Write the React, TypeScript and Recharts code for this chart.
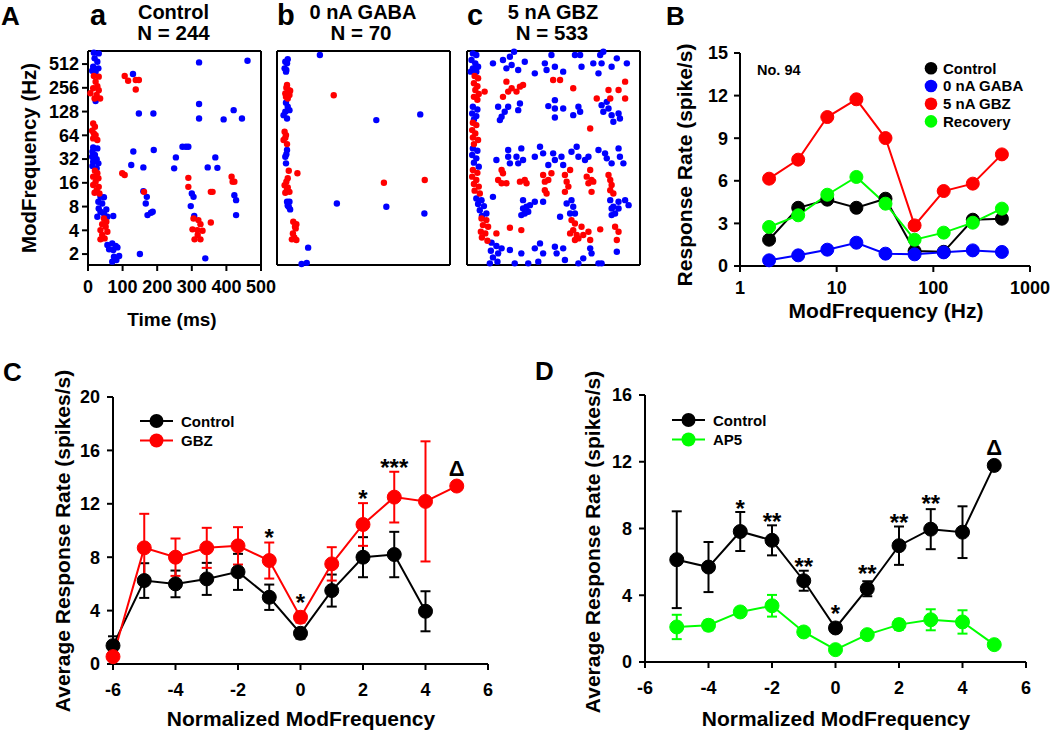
import React from 'react';
import {
  ScatterChart,
  Scatter,
  XAxis,
  YAxis,
  ReferenceLine,
  LineChart,
  Line,
  ComposedChart,
  ErrorBar,
} from 'recharts';

const FONT = '"Liberation Sans", Arial, Helvetica, sans-serif';
const BLUE = '#0000ff';
const RED = '#ff0000';
const GREEN = '#00ff00';
const BLACK = '#000000';

// ---- Panel A rasters: [time (ms), log2 ModFrequency] ----
type Pt = [number, number];

const rasterTimeTicks = [0, 100, 200, 300, 400, 500];
const rasterFreqTicks = [1, 2, 3, 4, 5, 6, 7, 8, 9];

const ctrlBlue: Pt[] = [
  [17, 9.48], [31, 9.45], [19, 9.24], [27, 9.1], [15, 8.89], [30, 8.82], [22, 8.68], [12, 8.72],
  [130, 8.58], [321, 9.07], [461, 9.14], [22, 7.44],
  [147, 6.92], [189, 6.92], [321, 7.32], [321, 6.71], [392, 6.67], [421, 7.06], [445, 6.71],
  [15, 5.49], [27, 5.45], [13, 5.31], [20, 5.17], [12, 5.1], [25, 4.99], [15, 4.89], [30, 4.82], [13, 4.71], [25, 4.61],
  [131, 5.32], [190, 5.38], [125, 4.75], [160, 4.65], [249, 4.61], [254, 5.07], [273, 5.52], [283, 5.52], [290, 5.52],
  [346, 4.65], [368, 5.07], [374, 4.63],
  [36, 3.41], [46, 3.39], [30, 3.2], [41, 3.13], [31, 2.92], [53, 2.88], [36, 2.78], [46, 2.71], [27, 2.57], [56, 2.57],
  [160, 3.65], [170, 3.41], [167, 3.13], [172, 2.64], [182, 2.74], [187, 2.78],
  [300, 3.55], [305, 3.41], [297, 3.02], [307, 2.6], [423, 3.48], [428, 3.27], [428, 2.64], [73, 2.6],
  [56, 1.38], [70, 1.45], [80, 1.34], [61, 1.2], [73, 1.17], [85, 1.28], [75, 0.89], [90, 0.92], [70, 0.68], [82, 0.75],
  [150, 1.0], [339, 0.82],
];
const ctrlRed: Pt[] = [
  [17, 8.5], [31, 8.47], [22, 8.26], [27, 8.07], [15, 7.98], [31, 7.9], [7, 7.77], [25, 7.7], [35, 7.55], [19, 7.55],
  [106, 8.5], [116, 8.3], [138, 8.33], [147, 8.33], [138, 7.93],
  [15, 6.5], [20, 6.36], [12, 6.19], [17, 6.08], [22, 6.01], [15, 5.87], [27, 5.8],
  [20, 4.51], [27, 4.4], [15, 4.26], [30, 4.19], [22, 4.05], [15, 3.91], [31, 3.83], [25, 3.69], [19, 3.58], [33, 3.55],
  [99, 4.4], [106, 4.33], [162, 3.62], [290, 4.21], [290, 3.83], [355, 3.62], [360, 3.62], [415, 4.26], [418, 4.05], [423, 4.05],
  [46, 2.5], [53, 2.36], [41, 2.26], [51, 2.15], [36, 2.01], [56, 1.94], [41, 1.8], [48, 1.66], [36, 1.62],
  [305, 2.5], [319, 2.43], [325, 2.26], [302, 2.04], [316, 2.01], [331, 1.98], [308, 1.62], [325, 1.62], [317, 1.8], [355, 2.33],
];

const gabaBlue: Pt[] = [
  [124, 9.38], [24, 9.1], [29, 9.03], [31, 9.2], [22, 8.82], [26, 8.68], [27, 8.75],
  [26, 7.37], [24, 6.99], [36, 7.06], [19, 6.85], [29, 6.71], [31, 7.2], [287, 6.64], [414, 6.88],
  [29, 5.38], [24, 5.1], [27, 5.2], [26, 4.82],
  [29, 3.2], [36, 3.2], [34, 2.99], [38, 2.88], [31, 3.05], [173, 3.13], [316, 2.99], [426, 2.71],
  [90, 1.27], [71, 0.58], [86, 0.63],
];
const gabaRed: Pt[] = [
  [29, 8.12], [34, 7.9], [24, 7.76], [38, 7.88], [26, 7.62], [31, 7.55], [27, 8.0], [36, 7.7], [164, 7.69],
  [22, 6.15], [26, 6.01], [19, 5.8], [29, 5.63], [24, 5.9],
  [34, 4.51], [59, 4.4], [31, 4.19], [22, 3.9], [29, 3.72], [36, 3.62], [24, 3.58], [27, 4.05], [31, 3.8],
  [309, 4.0], [427, 4.12],
  [47, 2.36], [56, 2.26], [54, 2.08], [46, 1.87], [43, 1.62], [56, 1.59], [52, 2.15], [50, 1.7],
];

const gbzBlue: Pt[] = [
  [17, 9.45], [27, 9.38], [13, 9.17], [24, 9.03], [17, 8.82], [32, 8.89], [11, 8.68], [27, 8.68],
  [75, 9.03], [104, 9.17], [124, 9.31], [136, 9.52], [114, 8.82], [129, 8.96], [148, 8.75], [167, 9.1],
  [196, 8.61], [225, 9.03], [244, 9.38], [230, 8.75], [254, 8.89], [278, 8.68], [312, 9.38], [327, 9.38],
  [331, 8.89], [365, 9.03], [385, 9.38], [394, 9.52], [389, 9.03], [433, 9.24], [462, 9.03], [380, 8.61], [418, 8.89],
  [17, 7.2], [30, 7.09], [15, 6.92], [27, 6.81], [20, 6.67],
  [90, 7.2], [119, 7.2], [153, 7.34], [148, 7.06], [109, 6.99], [100, 6.78], [95, 6.64], [254, 7.48], [235, 7.23],
  [254, 7.13], [278, 7.13], [254, 6.75], [307, 6.85], [322, 7.2], [327, 6.99], [389, 7.27], [409, 7.13], [418, 6.85],
  [438, 6.92], [394, 6.99], [423, 6.57], [442, 6.71], [404, 7.41],
  [17, 5.45], [30, 5.35], [15, 5.17], [27, 5.03], [20, 4.85], [34, 4.68],
  [85, 4.96], [119, 5.38], [119, 5.1], [124, 4.82], [143, 5.1], [157, 5.45], [148, 4.82], [162, 4.96], [211, 5.52],
  [220, 5.24], [249, 5.24], [254, 4.96], [273, 5.1], [278, 4.75], [302, 5.31], [317, 5.52], [322, 5.1], [341, 4.96],
  [351, 5.1], [380, 5.38], [399, 5.24], [404, 5.03], [438, 5.45], [442, 5.1], [452, 4.82], [418, 4.82], [235, 4.75], [196, 5.1],
  [27, 3.34], [42, 3.27], [32, 3.11], [49, 3.02], [37, 2.85], [56, 2.71], [43, 2.6],
  [75, 3.41], [162, 3.27], [172, 2.99], [167, 2.71], [157, 2.64], [177, 2.78], [162, 2.92], [182, 3.06], [196, 3.2],
  [220, 3.2], [288, 3.13], [302, 3.27], [307, 2.99], [298, 2.71], [312, 2.71], [269, 2.57],
  [414, 3.27], [423, 2.99], [428, 2.71], [438, 2.92], [457, 3.27], [467, 3.06], [418, 2.64], [418, 2.92], [438, 3.2],
  [71, 1.48], [85, 1.34], [69, 1.14], [90, 1.03], [75, 0.86], [88, 0.68], [66, 0.61],
  [100, 1.24], [124, 1.17], [138, 0.61], [157, 1.03], [196, 1.24], [211, 1.45], [220, 1.03], [206, 0.68], [254, 1.31],
  [259, 1.03], [278, 1.24], [283, 0.75], [322, 0.61], [336, 0.82], [356, 1.24], [360, 1.03], [389, 0.61], [433, 1.1],
  [380, 0.61], [177, 0.61],
];
const gbzRed: Pt[] = [
  [22, 8.5], [32, 8.4], [20, 8.19], [30, 8.07], [24, 7.91], [34, 7.74], [20, 7.62], [30, 7.5], [51, 7.84],
  [249, 8.33], [269, 8.33], [114, 8.26], [129, 7.98], [119, 7.84], [104, 7.62], [153, 8.05], [162, 8.12], [143, 7.84],
  [307, 7.98], [375, 7.55], [409, 7.91], [414, 7.55], [438, 7.91], [457, 8.26], [457, 7.55],
  [17, 6.53], [27, 6.43], [15, 6.22], [24, 6.08], [17, 5.91], [32, 5.8], [20, 5.63], [356, 6.29],
  [17, 4.54], [30, 4.42], [15, 4.26], [27, 4.12], [20, 3.95], [34, 3.84], [22, 3.67], [37, 3.55],
  [100, 4.54], [104, 4.4], [90, 4.12], [100, 3.98], [114, 3.98], [167, 4.12], [172, 3.98], [153, 4.05],
  [220, 4.33], [225, 4.05], [235, 4.12], [244, 4.4], [225, 3.69], [230, 3.55], [283, 4.33], [288, 4.05], [293, 3.84],
  [283, 3.62], [298, 4.54], [346, 4.26], [356, 4.54], [360, 4.12], [351, 3.98], [365, 4.05], [360, 3.62],
  [409, 4.33], [414, 4.12], [418, 3.91], [414, 3.69], [423, 3.55],
  [42, 2.5], [56, 2.43], [46, 2.22], [61, 2.15], [40, 1.94], [53, 1.87], [43, 1.7], [59, 1.56],
  [85, 1.87], [124, 2.11], [157, 2.01], [302, 2.43], [312, 2.29], [307, 2.01], [298, 1.87], [317, 1.8], [322, 1.66],
  [312, 1.59], [331, 2.15], [336, 1.8], [351, 1.94], [356, 1.59], [385, 2.04], [428, 2.15], [438, 1.94], [433, 1.59],
];

// ---- Panel B ----
const bFreqs = [2, 4, 8, 16, 32, 64, 128, 256, 512];
const bControl = [1.85, 4.1, 4.67, 4.1, 4.74, 1.05, 1.0, 3.26, 3.33];
const bGaba = [0.4, 0.75, 1.15, 1.64, 0.87, 0.82, 0.96, 1.1, 0.99];
const bGbz = [6.15, 7.49, 10.49, 11.74, 9.01, 2.86, 5.28, 5.8, 7.86];
const bRecovery = [2.75, 3.57, 5.02, 6.27, 4.39, 1.85, 2.35, 3.05, 4.04];
const bXTicks = [1, 10, 100, 1000];
const bYTicks = [0, 3, 6, 9, 12, 15];
const bSeries = [
  { key: 'control', name: 'Control', color: BLACK },
  { key: 'gaba', name: '0 nA GABA', color: BLUE },
  { key: 'gbz', name: '5 nA GBZ', color: RED },
  { key: 'recovery', name: 'Recovery', color: GREEN },
];

// ---- Panel C ----
const cXCtrl = [-6, -5, -4, -3, -2, -1, 0, 1, 2, 3, 4];
const cControl = [1.375, 6.25, 6.0, 6.375, 6.9, 5.0, 2.3, 5.5, 8.0, 8.2, 3.95];
const cControlErr = [0.7, 1.3, 1.0, 1.2, 1.35, 0.95, 0.4, 1.2, 1.5, 1.7, 1.5];
const cXGbz = [-6, -5, -4, -3, -2, -1, 0, 1, 2, 3, 4, 5];
const cGbz = [0.55, 8.7, 8.0, 8.7, 8.85, 7.75, 3.5, 7.5, 10.45, 12.5, 12.18, 13.33];
const cGbzErr = [0.2, 2.55, 1.4, 1.5, 1.4, 1.35, 0.4, 1.25, 1.6, 1.9, 4.5, 0];
const cAnnX = [-1, 0, 2, 3, 5];
const cAnnY = [9.91, 5.04, 12.79, 15.15, 14.66];
const cAnnText = ['*', '*', '*', '***', 'Δ'];

// ---- Panel D ----
const dX = [-5, -4, -3, -2, -1, 0, 1, 2, 3, 4, 5];
const dControl = [6.13, 5.69, 7.82, 7.29, 4.87, 2.04, 4.39, 6.97, 7.96, 7.78, 11.78];
const dControlErr = [2.9, 1.5, 1.17, 0.9, 0.6, 0.2, 0.45, 1.15, 1.2, 1.55, 0];
const dAp5 = [2.1, 2.2, 3.0, 3.37, 1.8, 0.74, 1.64, 2.24, 2.53, 2.4, 1.04];
const dAp5Err = [0.73, 0.3, 0.25, 0.65, 0.2, 0.1, 0.15, 0.3, 0.63, 0.7, 0];
const dAnnX = [-3, -2, -1, 0, 1, 2, 3, 5];
const dAnnY = [9.51, 8.77, 6.07, 3.22, 5.61, 8.71, 9.81, 12.86];
const dAnnText = ['*', '**', '**', '*', '**', '**', '**', 'Δ'];

const normXTicks = [-6, -4, -2, 0, 2, 4, 6];

const axisLine = { stroke: BLACK, strokeWidth: 2 };
const tickLine = { stroke: BLACK, strokeWidth: 2 };
const tickFont = (size: number) => ({ fill: BLACK, fontSize: size, fontWeight: 700, fontFamily: FONT });

const RASTER_Y: [number, number] = [0.54, 9.55];
const RASTER_YW = 50;

function dotShape(color: string, r: number) {
  return (p: any) => <circle cx={p.cx} cy={p.cy} r={r} fill={color} />;
}

function annotShape(p: any) {
  const txt = p.payload.label;
  const delta = txt === 'Δ';
  return (
    <text
      x={p.cx}
      y={p.cy + (delta ? 8 : 14)}
      textAnchor="middle"
      fontSize={delta ? 22 : 24}
      fontWeight={700}
      fontFamily={FONT}
      fill={BLACK}
    >
      {txt}
    </text>
  );
}

function Raster({ plotLeft, blue, red, labels }: { plotLeft: number; blue: Pt[]; red: Pt[]; labels: boolean }) {
  const toRows = (arr: Pt[]) => arr.map(([t, f]) => ({ t, f }));
  return (
    <div style={{ position: 'absolute', left: plotLeft - RASTER_YW, top: 41 }}>
      <ScatterChart width={RASTER_YW + 173 + 26} height={10 + 214 + 45} margin={{ top: 10, right: 26, bottom: 0, left: 0 }}>
        <XAxis
          type="number"
          dataKey="t"
          domain={[0, 500]}
          ticks={rasterTimeTicks}
          interval={0}
          height={45}
          axisLine={axisLine}
          tickLine={tickLine}
          tickSize={6}
          tickMargin={9}
          tick={labels ? tickFont(18) : false}
        />
        <YAxis
          type="number"
          dataKey="f"
          domain={RASTER_Y}
          ticks={rasterFreqTicks}
          interval={0}
          tickFormatter={(v: number) => String(2 ** v)}
          width={RASTER_YW}
          axisLine={axisLine}
          tickLine={tickLine}
          tickSize={6}
          tickMargin={3}
          tick={labels ? tickFont(18) : false}
        />
        <ReferenceLine y={RASTER_Y[1]} stroke={BLACK} strokeWidth={2} />
        <ReferenceLine x={500} stroke={BLACK} strokeWidth={2} />
        <Scatter data={toRows(blue)} fill={BLUE} shape={dotShape(BLUE, 3.2)} isAnimationActive={false} />
        <Scatter data={toRows(red)} fill={RED} shape={dotShape(RED, 3.2)} isAnimationActive={false} />
      </ScatterChart>
    </div>
  );
}

function PanelB() {
  const rows = bFreqs.map((f, i) => ({
    f,
    control: bControl[i],
    gaba: bGaba[i],
    gbz: bGbz[i],
    recovery: bRecovery[i],
  }));
  return (
    <div style={{ position: 'absolute', left: 690, top: 42.7 }}>
      <LineChart width={360} height={263} data={rows} margin={{ top: 10, right: 20, bottom: 0, left: 0 }}>
        <XAxis
          type="number"
          dataKey="f"
          scale="log"
          domain={[1, 1000]}
          ticks={bXTicks}
          interval={0}
          height={40}
          axisLine={axisLine}
          tickLine={tickLine}
          tickSize={6}
          tickMargin={9}
          tick={tickFont(18)}
          allowDataOverflow
        />
        <YAxis
          type="number"
          domain={[0, 15]}
          ticks={bYTicks}
          interval={0}
          width={50}
          axisLine={axisLine}
          tickLine={tickLine}
          tickSize={6}
          tickMargin={6}
          tick={tickFont(18)}
        />
        {bSeries.map((s) => (
          <Line
            key={s.key}
            type="linear"
            dataKey={s.key}
            stroke={s.color}
            strokeWidth={2}
            dot={{ r: 6.5, fill: s.color, stroke: s.color, strokeWidth: 1 }}
            activeDot={false}
            isAnimationActive={false}
          />
        ))}
      </LineChart>
    </div>
  );
}

function NormPanel({
  left, top, width, height, yMax, yTicks, series, annX, annY, annText,
}: {
  left: number; top: number; width: number; height: number; yMax: number; yTicks: number[];
  series: { name: string; color: string; rows: { x: number; v: number; err: number }[] }[];
  annX: number[]; annY: number[]; annText: string[];
}) {
  const ann = annX.map((x, i) => ({ x, y: annY[i], label: annText[i] }));
  return (
    <div style={{ position: 'absolute', left, top }}>
      <ComposedChart width={width} height={height} margin={{ top: 17, right: 20, bottom: 0, left: 0 }}>
        <XAxis
          type="number"
          dataKey="x"
          domain={[-6, 6]}
          ticks={normXTicks}
          interval={0}
          height={44}
          axisLine={axisLine}
          tickLine={tickLine}
          tickSize={6}
          tickMargin={13}
          tick={tickFont(18)}
          allowDecimals={false}
        />
        <YAxis
          type="number"
          domain={[0, yMax]}
          ticks={yTicks}
          interval={0}
          width={53}
          axisLine={axisLine}
          tickLine={tickLine}
          tickSize={6}
          tickMargin={7}
          tick={tickFont(18)}
        />
        {series.map((s) => (
          <Line
            key={s.name}
            data={s.rows}
            type="linear"
            dataKey="v"
            stroke={s.color}
            strokeWidth={2}
            dot={{ r: 7, fill: s.color, stroke: s.color, strokeWidth: 1 }}
            activeDot={false}
            isAnimationActive={false}
          >
            <ErrorBar dataKey="err" direction="y" width={5} strokeWidth={2} stroke={s.color} />
          </Line>
        ))}
        <Scatter data={ann} dataKey="y" shape={annotShape} isAnimationActive={false} />
      </ComposedChart>
    </div>
  );
}

const toRows = (xs: number[], vs: number[], es: number[]) => xs.map((x, i) => ({ x, v: vs[i], err: es[i] }));

const cSeries = [
  { name: 'Control', color: BLACK, rows: toRows(cXCtrl, cControl, cControlErr) },
  { name: 'GBZ', color: RED, rows: toRows(cXGbz, cGbz, cGbzErr) },
];
const dSeries = [
  { name: 'Control', color: BLACK, rows: toRows(dX, dControl, dControlErr) },
  { name: 'AP5', color: GREEN, rows: toRows(dX, dAp5, dAp5Err) },
];

function LegendRows({ x0, y0, names }: { x0: number; y0: number; names: { name: string; color: string }[] }) {
  return (
    <g>
      {names.map((s, i) => {
        const y = y0 + i * 19.5;
        return (
          <g key={s.name}>
            <line x1={x0} x2={x0 + 33} y1={y} y2={y} stroke={s.color} strokeWidth={2} />
            <circle cx={x0 + 16.5} cy={y} r={7} fill={s.color} />
            <text x={x0 + 41} y={y + 5.5} fontSize={15}>{s.name}</text>
          </g>
        );
      })}
    </g>
  );
}

export default function App() {
  return (
    <div
      style={{
        position: 'absolute',
        left: 0,
        top: 0,
        width: 1050,
        height: 733,
        background: '#fff',
        overflow: 'hidden',
        fontFamily: FONT,
      }}
    >
      <Raster plotLeft={87.5} blue={ctrlBlue} red={ctrlRed} labels />
      <Raster plotLeft={276.7} blue={gabaBlue} red={gabaRed} labels={false} />
      <Raster plotLeft={467.3} blue={gbzBlue} red={gbzRed} labels={false} />
      <PanelB />
      <NormPanel
        left={60} top={380} width={448} height={328} yMax={20} yTicks={[0, 4, 8, 12, 16, 20]}
        series={cSeries} annX={cAnnX} annY={cAnnY} annText={cAnnText}
      />
      <NormPanel
        left={592} top={378} width={454} height={328} yMax={16} yTicks={[0, 4, 8, 12, 16]}
        series={dSeries} annX={dAnnX} annY={dAnnY} annText={dAnnText}
      />
      <svg
        width={1050}
        height={733}
        style={{ position: 'absolute', left: 0, top: 0, pointerEvents: 'none' }}
        fontFamily={FONT}
        fontWeight={700}
        fill={BLACK}
      >
        {/* panel letters */}
        <text x={1} y={25} fontSize={26}>A</text>
        <text x={666} y={25} fontSize={26}>B</text>
        <text x={3} y={381} fontSize={26}>C</text>
        <text x={535} y={380} fontSize={26}>D</text>
        <text x={90} y={25} fontSize={29}>a</text>
        <text x={277} y={25} fontSize={29}>b</text>
        <text x={467} y={25} fontSize={29}>c</text>
        {/* raster titles */}
        <text x={173.5} y={19} fontSize={20} textAnchor="middle">Control</text>
        <text x={173.5} y={40} fontSize={20.5} textAnchor="middle">N = 244</text>
        <text x={363} y={19} fontSize={20} textAnchor="middle">0 nA GABA</text>
        <text x={361} y={40} fontSize={20.5} textAnchor="middle">N = 70</text>
        <text x={553} y={19} fontSize={20} textAnchor="middle">5 nA GBZ</text>
        <text x={552} y={40} fontSize={20.5} textAnchor="middle">N = 533</text>
        {/* axis titles */}
        <text transform="translate(36,158) rotate(-90)" fontSize={20.5} textAnchor="middle">ModFrequency (Hz)</text>
        <text x={172} y={326} fontSize={19} textAnchor="middle">Time (ms)</text>
        <text transform="translate(692,165) rotate(-90)" fontSize={21} textAnchor="middle">Response Rate (spike/s)</text>
        <text x={886} y={318} fontSize={21} textAnchor="middle">ModFrequency (Hz)</text>
        <text x={757} y={75} fontSize={14.5}>No. 94</text>
        <text transform="translate(70,541) rotate(-90)" fontSize={21} textAnchor="middle">Average Response Rate (spikes/s)</text>
        <text x={301} y={726} fontSize={21} textAnchor="middle">Normalized ModFrequency</text>
        <text transform="translate(600,542) rotate(-90)" fontSize={21} textAnchor="middle">Average Response Rate (spikes/s)</text>
        <text x={836} y={726} fontSize={21} textAnchor="middle">Normalized ModFrequency</text>
        {/* legends */}
        {bSeries.map((s, i) => (
          <g key={s.key}>
            <circle cx={931} cy={68.3 + i * 17.7} r={6.3} fill={s.color} />
            <text x={943} y={73.5 + i * 17.7} fontSize={15}>{s.name}</text>
          </g>
        ))}
        <LegendRows x0={140} y0={421} names={cSeries} />
        <LegendRows x0={672} y0={420} names={dSeries} />
      </svg>
    </div>
  );
}
